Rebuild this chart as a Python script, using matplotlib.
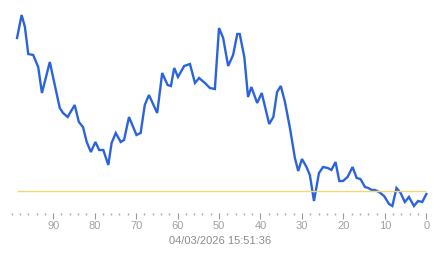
import matplotlib
matplotlib.use("Agg")
import matplotlib.pyplot as plt
from matplotlib.ticker import MultipleLocator

plt.rcParams['font.family'] = ['Liberation Sans', 'DejaVu Sans']

# minutes ago (x) and reading (y)
ago = [98.7, 97.6, 96.8, 96.0, 94.8, 93.6, 92.7, 90.8, 89.6, 88.4, 87.6, 86.5,
       84.8, 83.8, 82.8, 81.9, 80.9, 79.8, 78.9, 77.9, 76.7, 75.9, 74.9, 73.7,
       72.9, 71.7, 69.9, 68.9, 67.9, 66.9, 64.9, 63.7, 62.4, 61.6, 60.8, 59.9,
       58.4, 57.0, 55.8, 54.8, 53.4, 52.2, 51.0, 50.0, 49.0, 47.8, 46.6, 45.6,
       45.0, 43.9, 43.0, 42.2, 40.8, 39.7, 37.9, 36.9, 36.0, 35.1, 34.1, 32.9,
       31.7, 30.9, 30.0, 28.9, 28.1, 27.1, 25.9, 24.9, 23.8, 22.9, 21.9, 21.0,
       20.1, 19.0, 17.8, 16.8, 15.9, 14.8, 14.0, 13.2, 12.4, 11.4, 10.2, 9.0,
       8.2, 7.2, 6.2, 5.2, 4.2, 3.0, 2.0, 1.0, 0.0]
value = [192, 215, 203, 176, 175, 163, 137, 168, 145, 122, 117, 113,
         125, 108, 103, 88, 78, 88, 80, 80, 65, 87, 97, 88,
         90, 113, 95, 97, 125, 135, 117, 157, 145, 144, 162, 153,
         164, 166, 147, 152, 147, 142, 141, 202, 192, 164, 175, 196,
         196, 173, 133, 143, 127, 137, 106, 113, 138, 144, 128, 102,
         72, 59, 71, 63, 55, 29, 57, 63, 62, 60, 68, 49,
         49, 53, 63, 52, 51, 43, 42, 40, 40, 38, 34, 26,
         24, 42, 37, 28, 33, 24, 29, 28, 36]
threshold = 39
major_ticks = [90, 80, 70, 60, 50, 40, 30, 20, 10, 0]
stamp = "04/03/2026 15:51:36"

fig = plt.figure(figsize=(4.43, 2.58), dpi=100)
ax = fig.add_axes([10/443, 1 - 213/258, 423/443, 208/258])
ax.plot(ago, value, color='#2b63dc', lw=1.7, solid_joinstyle='miter')
ax.hlines(threshold, max(ago), 0, color='#f0d67a', lw=1.0)
ax.set_xlim(100.4, -1.6)
ax.set_ylim(17, 225)

for s in ax.spines.values():
    s.set_visible(False)
ax.set_yticks([])
ax.set_xticks(major_ticks)
ax.xaxis.set_minor_locator(MultipleLocator(2))
ax.tick_params(axis='x', which='major', direction='out', length=4.5, width=0.8,
               color='#999999', labelsize=8, labelcolor='#a0a0a0', pad=1.5)
ax.tick_params(axis='x', which='minor', direction='out', length=1.2, width=1.0,
               color='#aaaaaa')

fig.text(220/443, 1 - 241/258, stamp, ha='center', va='center',
         fontsize=8, color='#8c8c8c')

fig.savefig('out.png', dpi=100)
